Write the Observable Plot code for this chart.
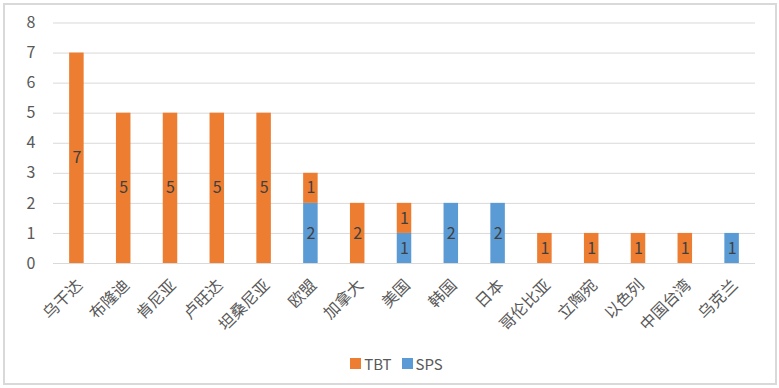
<!DOCTYPE html>
<html>
<head>
<meta charset="utf-8">
<script src="https://cdn.jsdelivr.net/npm/d3@7"></script>
<script src="https://cdn.jsdelivr.net/npm/@observablehq/plot@0.6"></script>
<style>
  html, body { margin: 0; padding: 0; background: #fff; }
  body { width: 779px; height: 388px; position: relative; overflow: hidden;
         font-family: "Noto Sans CJK SC", "Noto Sans", sans-serif; }
  #frame { position: absolute; left: 3px; top: 3px; width: 770px; height: 378px;
           border: 2px solid #d9d9d9; box-sizing: content-box; }
  #chart { position: absolute; left: 0; top: 0; }
  #legend { position: absolute; left: 7px; top: 353px; width: 779px; display: flex;
            justify-content: center; align-items: center; gap: 10px;
            font-size: 15px; color: #595959; }
  .item { display: flex; align-items: center; gap: 3px; }
  .sw { width: 11px; height: 11px; display: inline-block; }
</style>
</head>
<body>
<div id="frame"></div>
<div id="chart"></div>
<div id="legend"></div>
<script>
const categories = ["乌干达","布隆迪","肯尼亚","卢旺达","坦桑尼亚","欧盟","加拿大","美国","韩国","日本","哥伦比亚","立陶宛","以色列","中国台湾","乌克兰"];
const tbt = [7,5,5,5,5,1,2,1,0,0,1,1,1,1,0];
const sps = [0,0,0,0,0,2,0,1,2,2,0,0,0,0,1];
const seriesNames = ["TBT","SPS"];
const colors = ["#ED7D31","#5B9BD5"];
const yTicks = [0,1,2,3,4,5,6,7,8];

const rows = [];
categories.forEach((c, i) => {
  rows.push({cat: c, type: "SPS", value: sps[i]});
  rows.push({cat: c, type: "TBT", value: tbt[i]});
});
const nonzero = rows.filter(d => d.value > 0);

const stackOpts = {x: "cat", y: "value", z: "type", order: ["SPS","TBT"]};
const font = '"Noto Sans CJK SC", "Noto Sans", sans-serif';

const plot = Plot.plot({
  width: 779,
  height: 340,
  marginTop: 22.5,
  marginBottom: 77,
  marginLeft: 53,
  marginRight: 24,
  style: {fontFamily: font, fontSize: "16px", color: "#595959", background: "transparent"},
  x: {domain: categories, paddingInner: 0.69, paddingOuter: 0.345, round: false, label: null},
  y: {domain: [0, 8], ticks: yTicks, label: null},
  color: {domain: seriesNames, range: colors},
  marks: [
    Plot.ruleY(yTicks, {stroke: "#d9d9d9", strokeWidth: 1}),
    Plot.axisY({ticks: yTicks, tickSize: 0, tickPadding: 18, fontSize: 16, fill: "#595959", label: null}),
    Plot.axisX({tickSize: 0, tickRotate: -45, tickPadding: 19, fontSize: 16, fill: "#595959", dx: 3, label: null}),
    Plot.barY(rows, Plot.stackY({...stackOpts, fill: "type"})),
    Plot.text(nonzero, Plot.stackY({...stackOpts, text: d => String(d.value), fill: "#404040", fontSize: 16})),
    Plot.ruleY([0], {stroke: "#d9d9d9", strokeWidth: 1})
  ]
});
document.getElementById("chart").appendChild(plot);

const legend = document.getElementById("legend");
seriesNames.forEach((s, i) => {
  const item = document.createElement("span");
  item.className = "item";
  const sw = document.createElement("span");
  sw.className = "sw";
  sw.style.background = colors[i];
  const t = document.createElement("span");
  t.textContent = s;
  item.appendChild(sw);
  item.appendChild(t);
  legend.appendChild(item);
});
</script>
</body>
</html>
